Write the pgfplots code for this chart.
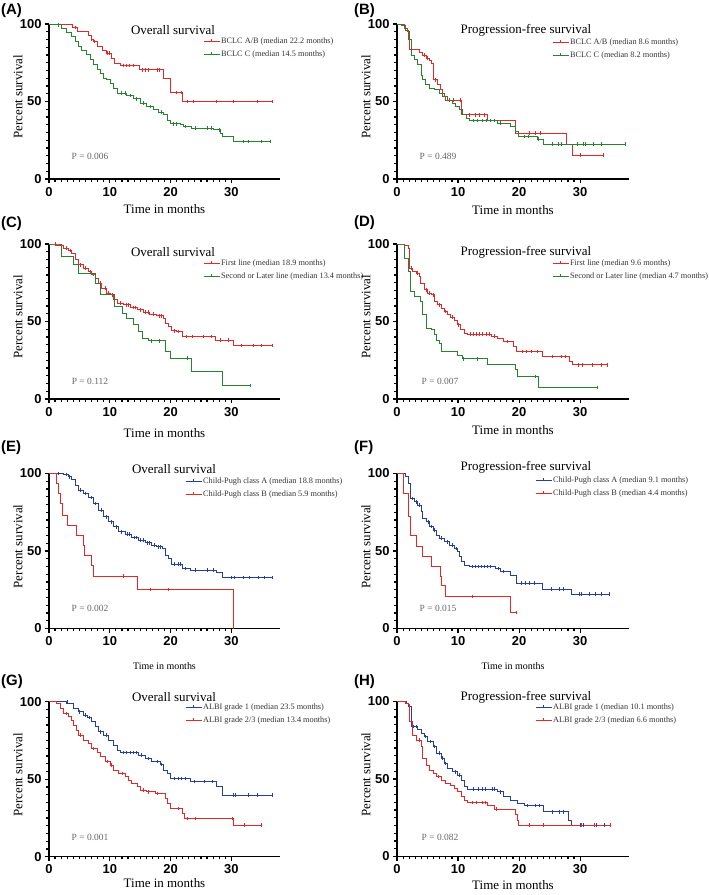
\documentclass[border=0pt]{standalone}
\usepackage{pgfplots}
\pgfplotsset{compat=1.18}
\usepackage{fontspec}
\setmainfont{Liberation Serif}
\setsansfont{Liberation Sans}
\definecolor{kmred}{RGB}{228,40,40}
\definecolor{kmgreen}{RGB}{40,130,50}
\definecolor{kmblue}{RGB}{40,60,165}
\pgfplotsset{
 kmaxis/.style={
  scale only axis, width=231bp, height=155bp,
  xmin=0, xmax=38, ymin=0, ymax=100,
  axis lines=left, axis line style={-, line width=1.4bp},
  xtick={0,10,20,30}, ytick={0,50,100},
  minor x tick num=9, minor y tick num=9,
  tick align=outside, major tick length=4bp, minor tick length=2.6bp,
  every tick/.style={black, line width=1.2bp},
  tick label style={font=\sffamily\bfseries\fontsize{13}{13}\selectfont},
  xticklabel style={yshift=-0.5bp},
  /pgf/number format/assume math mode=true,
  xlabel={Time in months}, ylabel={Percent survival},
  label style={font=\fontsize{13}{13}\selectfont},
  ylabel style={at={(axis description cs:-0.134,0.53)}, anchor=center},
  clip=false,
  anchor=south west,
  legend cell align=left,
  legend style={draw=none, fill=none, text=black!80, font=\fontsize{8.3}{8.3}\selectfont, anchor=north west, inner sep=0pt, row sep=3bp, nodes={inner sep=1bp, text height=6bp, text depth=2bp}},
  legend image code/.code={\draw[##1] (0bp,0bp) -- (16bp,0bp); \draw[##1] (8bp,0bp) -- (8bp,2.5bp); \path (0bp,-2.5bp);},
 },
 kmline/.style={const plot, line width=0.85bp, mark=none},
 kmcens/.style={only marks, mark=|, mark size=1.8bp, mark options={line width=0.7bp}, forget plot},
}
\newcommand{\ttl}[3]{\node[font=\fontsize{13}{13}\selectfont] at (#1bp,-#2bp) {#3};}
\newcommand{\pv}[3]{\node[font=\fontsize{9.5}{9.5}\selectfont, text=black!60] at (#1bp,-#2bp) {#3};}
\newcommand{\plab}[3]{\node[anchor=west, font=\sffamily\bfseries\fontsize{15}{15}\selectfont, inner sep=0pt] at (#1bp,-#2bp) {#3};}
\begin{document}
\begin{tikzpicture}
\useasboundingbox (0,0) rectangle (709bp,-895bp);
% ---------------- A ----------------
\begin{axis}[kmaxis, at={(49bp,-179bp)},
  xlabel style={at={(axis description cs:0.5,-0.194)}, anchor=center},
  legend style={at={(axis description cs:0.667,0.918)}}]
\addplot[kmline, kmred] coordinates {(0,100)(3.9,97.8)(4.7,95.3)(6.5,92.5)(6.9,90.3)(7.3,88.8)(7.9,85.6)(8.8,83.0)(9.5,81.3)(10.3,78.0)(10.7,74.8)(11.7,73.3)(14.9,70.5)(18.8,65.1)(19.9,55.8)(22.0,50.0)(36.7,50.0)};
\addlegendentry{BCLC A/B (median 22.2 months)}
\addplot[kmline, kmgreen] coordinates {(0,100)(1.3,99.5)(2.1,97.4)(2.9,94.6)(3.7,92.0)(4.3,88.8)(4.8,85.6)(5.4,83.0)(6.2,80.2)(6.8,77.4)(7.3,73.7)(7.9,70.5)(8.4,67.9)(9.0,65.0)(9.5,64.0)(10.1,61.9)(10.6,58.6)(11.2,55.4)(12.8,53.9)(13.9,51.7)(15.0,48.9)(16.1,46.8)(17.2,44.6)(18.0,43.1)(18.8,41.4)(19.4,38.1)(19.9,35.6)(21.6,34.9)(22.1,33.8)(23.5,32.8)(27.1,31.7)(28.2,29.5)(28.5,27.4)(30.4,24.1)(36.4,24.1)};
\addlegendentry{BCLC C (median 14.5 months)}
\addplot[kmcens, kmred] coordinates {(4.3,97.8)(7.0,90.3)(7.5,88.8)(9.6,81.3)(10.0,81.3)(12.2,73.3)(12.7,73.3)(13.2,73.3)(13.8,73.3)(15.3,70.5)(15.9,70.5)(16.4,70.5)(17.8,70.5)(18.2,70.5)(20.9,55.8)(21.7,55.8)(22.8,50)(23.8,50)(27.6,50)(30.3,50)(34.2,50)(36.7,50)};
\addplot[kmcens, kmgreen] coordinates {(1.5,99.5)(11.9,55.4)(12.5,55.4)(13.3,53.9)(14.4,51.7)(15.5,48.9)(16.6,46.8)(18.5,43.1)(20.5,35.6)(21.0,35.6)(22.5,33.8)(24.0,32.8)(26.0,32.8)(26.7,32.8)(28.0,31.7)(32.0,24.1)(32.8,24.1)(35.0,24.1)(36.4,24.1)};
\end{axis}
% ---------------- B ----------------
\begin{axis}[kmaxis, width=232bp, at={(397bp,-179bp)},
  xlabel style={at={(axis description cs:0.5,-0.2)}, anchor=center},
  legend style={at={(axis description cs:0.668,0.916)}}]
\addplot[kmline, kmred] coordinates {(0,100)(1.2,97)(1.7,95)(2.1,83.4)(3.7,81.7)(4.2,80.0)(4.8,78.0)(5.3,76.3)(5.7,74.8)(6.0,64.0)(6.7,60.8)(7.1,57.5)(7.5,53.2)(8.0,51.0)(10.6,41.4)(14.8,38.1)(19.4,29.5)(27.8,22.0)(28.7,15.5)(33.8,15.5)};
\addlegendentry{BCLC A/B (median 8.6 months)}
\addplot[kmline, kmgreen] coordinates {(0,100)(0.7,99)(1.3,96)(1.8,90)(2.3,80)(2.9,77)(3.4,73.7)(4.0,67)(4.2,64)(4.6,60.8)(5.3,58.6)(6.1,57.5)(6.9,55.4)(7.8,53.2)(8.3,51.0)(9.1,49.0)(9.6,46.8)(10.2,44.6)(10.7,41.4)(11.3,39.2)(11.8,37.7)(16.4,36.0)(18.6,33.8)(19.4,30.6)(19.9,27.4)(23.0,25.8)(24.0,22.6)(37.4,22.6)};
\addlegendentry{BCLC C (median 8.2 months)}
\addplot[kmcens, kmred] coordinates {(4.5,80)(5.0,78)(6.3,64)(8.6,51)(9.3,51)(10.3,51)(11.9,41.4)(12.8,41.4)(13.5,41.4)(14.3,41.4)(21.6,29.5)(22.6,29.5)(23.4,29.5)(30.0,15.5)(33.8,15.5)};
\addplot[kmcens, kmgreen] coordinates {(12.5,37.7)(13.2,37.7)(13.9,37.7)(14.6,37.7)(15.3,37.7)(16.0,37.7)(17,36)(20.8,27.4)(21.5,27.4)(23.2,25.8)(25.5,22.6)(26.5,22.6)(27,22.6)(29.5,22.6)(30.5,22.6)(30.8,22.6)(32.2,22.6)(33.5,22.6)(37.4,22.6)};
\end{axis}
% ---------------- C ----------------
\begin{axis}[kmaxis, at={(49bp,-399bp)},
  xlabel style={at={(axis description cs:0.5,-0.219)}, anchor=center},
  legend style={at={(axis description cs:0.667,0.91)}}]
\addplot[kmline, kmred] coordinates {(0,100)(0.7,100)(1.3,99.0)(2.4,97.4)(3.2,95.9)(3.7,94.2)(4.3,89.9)(4.8,86.6)(5.7,84.5)(6.5,82.3)(7.0,80.2)(7.6,77.6)(8.1,74.8)(8.7,71.6)(9.5,68.3)(10.1,67.2)(10.6,64.0)(11.2,61.9)(12.3,60.8)(13.4,59.0)(14.5,57.5)(15.5,56.0)(16.6,54.7)(17.7,53.6)(18.8,52.2)(19.1,48.9)(19.7,46.8)(20.1,44.0)(21.0,43.5)(22.0,40.3)(27.4,38.1)(30.4,34.5)(36.7,34.5)};
\addlegendentry{First line (median 18.9 months)}
\addplot[kmline, kmgreen] coordinates {(0,100)(1.0,100)(2.1,92.0)(4.1,87.0)(4.8,81.3)(7.6,74.8)(8.5,67.2)(10.7,59.7)(12.0,55.4)(12.8,52.2)(13.9,47.8)(14.7,43.5)(15.3,39.2)(16.4,37.5)(19.1,30.6)(19.9,26.3)(23.4,17.7)(28.5,8.6)(33.1,8.6)};
\addlegendentry{Second or Later line (median 13.4 months)}
\addplot[kmcens, kmred] coordinates {(1.0,100)(2.0,99)(2.8,97.4)(3.5,95.9)(5.2,86.6)(6.0,84.5)(6.8,82.3)(7.3,80.2)(8.4,74.8)(9.2,71.6)(9.8,68.3)(10.4,67.2)(11.8,61.9)(12.7,60.8)(13.0,60.8)(13.8,59)(14.2,59)(15.0,57.5)(15.9,56)(16.3,56)(17.2,54.7)(18.2,53.6)(18.5,53.6)(20.6,44)(21.3,43.5)(22.6,40.3)(23.6,40.3)(25.4,40.3)(26.7,40.3)(28.2,38.1)(29.5,38.1)(31.6,34.5)(33.6,34.5)(35.0,34.5)(36.7,34.5)};
\addplot[kmcens, kmgreen] coordinates {(16.8,37.5)(18.2,37.5)(22.7,26.3)(33.1,8.6)};
\end{axis}
% ---------------- D ----------------
\begin{axis}[kmaxis, width=232bp, at={(397bp,-399bp)},
  xlabel style={at={(axis description cs:0.5,-0.2)}, anchor=center},
  legend style={at={(axis description cs:0.668,0.91)}}]
\addplot[kmline, kmred] coordinates {(0,100)(1.0,100)(1.2,99)(1.8,97.4)(2.1,84.5)(2.6,82.3)(3.1,81.3)(3.7,79.1)(3.9,74.8)(4.5,70.5)(5.0,68.3)(5.6,67.2)(6.1,62.9)(6.6,60.8)(7.2,58.6)(7.7,56.5)(8.3,54.3)(8.8,52.8)(9.4,50.4)(9.9,47.8)(10.4,44.6)(11.0,42.5)(11.5,41.8)(15.5,40.5)(16.4,39.2)(17.5,37.1)(19.1,33.8)(19.6,30.6)(23.8,27.4)(28.3,24.1)(28.8,22.0)(34.5,22.0)};
\addlegendentry{First line (median 9.6 months)}
\addplot[kmline, kmgreen] coordinates {(0,100)(1.1,100)(1.2,90.5)(1.8,82.3)(2.2,69.4)(2.9,66.2)(3.9,62.9)(4.2,54.3)(4.8,45.7)(5.6,44.6)(6.1,41.4)(6.4,38.1)(6.9,36.0)(7.2,31.0)(9.9,28.4)(10.7,25.9)(14.8,22.0)(19.4,18.8)(19.7,14.4)(23.1,7.5)(32.8,7.5)};
\addlegendentry{Second or Later line (median 4.7 months)}
\addplot[kmcens, kmred] coordinates {(2.4,84.5)(3.3,81.3)(4.8,70.5)(5.3,68.3)(5.9,67.2)(7.0,60.8)(8.0,56.5)(9.1,52.8)(10.1,47.8)(12.0,41.8)(12.5,41.8)(13.0,41.8)(13.5,41.8)(14.0,41.8)(14.6,41.8)(15.2,41.8)(16.0,40.5)(18.0,37.1)(20.5,30.6)(21.2,30.6)(22.0,30.6)(23.0,30.6)(25.5,27.4)(27.0,27.4)(27.5,27.4)(29.7,22)(30.3,22)(32.0,22)(33.5,22)(34.5,22)};
\addplot[kmcens, kmgreen] coordinates {(10.9,25.9)(13.1,25.9)(22.7,14.4)(32.8,7.5)};
\end{axis}
% ---------------- E ----------------
\begin{axis}[kmaxis, at={(49bp,-628.5bp)},
  xlabel style={at={(axis description cs:0.5,-0.242)}, anchor=center, font=\fontsize{10}{10}\selectfont},
  legend style={at={(axis description cs:0.589,0.984)}}]
\addplot[kmline, kmblue] coordinates {(0,100)(1.0,100)(2.4,99.4)(3.2,97.8)(3.7,96.1)(4.3,92.5)(4.8,89.2)(5.7,87.1)(6.5,84.5)(7.3,80.6)(8.1,76.3)(9.0,72.0)(9.8,68.8)(10.6,65.6)(11.4,62.4)(12.5,60.9)(13.6,58.7)(14.7,57.0)(15.8,55.3)(16.9,53.8)(17.7,52.7)(18.6,51.6)(19.1,47.3)(19.7,45.2)(20.1,41.5)(22.0,38.7)(23.2,37.6)(27.6,35.9)(28.5,32.9)(36.7,32.9)};
\addlegendentry{Child-Pugh class A (median 18.8 months)}
\addplot[kmline, kmred] coordinates {(0,100)(1.0,100)(1.2,93.5)(1.5,87.1)(1.8,80.6)(2.2,73.1)(3.1,66.7)(4.5,60.2)(5.7,53.8)(5.9,47.3)(7.0,40.9)(7.3,33.8)(14.5,25.2)(30.4,0)};
\addlegendentry{Child-Pugh class B (median 5.9 months)}
\addplot[kmcens, kmblue] coordinates {(1.5,100)(2.8,99.4)(3.4,97.8)(5.2,89.2)(6.0,87.1)(6.9,84.5)(7.7,80.6)(8.6,76.3)(9.4,72)(10.2,68.8)(11.0,65.6)(11.9,62.4)(12.9,60.9)(13.2,60.9)(14.0,58.7)(14.3,58.7)(15.1,57)(15.5,57)(16.2,55.3)(16.5,55.3)(17.3,53.8)(18.0,52.7)(18.3,52.7)(20.6,41.5)(21.2,41.5)(21.6,41.5)(22.5,38.7)(24.0,37.6)(26.0,37.6)(27.0,37.6)(30.0,32.9)(30.5,32.9)(32.0,32.9)(33.0,32.9)(34.5,32.9)(35.5,32.9)(36.7,32.9)};
\addplot[kmcens, kmred] coordinates {(12.3,33.8)(16.6,25.2)(19.7,25.2)};
\end{axis}
% ---------------- F ----------------
\begin{axis}[kmaxis, width=232bp, at={(397bp,-628.5bp)},
  xlabel style={at={(axis description cs:0.5,-0.245)}, anchor=center, font=\fontsize{10}{10}\selectfont},
  legend style={at={(axis description cs:0.595,0.987)}}]
\addplot[kmline, kmblue] coordinates {(0,100)(1.0,100)(1.4,98.3)(1.8,93.6)(2.2,83.9)(2.9,81.8)(3.4,79.6)(4.0,75.3)(4.2,71.0)(4.8,68.9)(5.3,65.7)(5.9,63.5)(6.4,60.3)(6.9,58.2)(7.8,56.0)(8.6,53.9)(9.4,51.7)(9.9,49.6)(10.2,46.4)(10.5,43.1)(11.0,41.0)(11.8,39.9)(16.2,38.8)(17.0,36.7)(18.6,34.5)(19.6,29.2)(23.9,25.5)(28.6,22.3)(34.7,22.3)};
\addlegendentry{Child-Pugh class A (median 9.1 months)}
\addplot[kmline, kmred] coordinates {(0,100)(1.0,100)(1.1,87.1)(1.9,72.1)(2.2,60.3)(3.1,52.8)(4.2,46.8)(5.7,40.3)(7.1,33.5)(7.3,27.5)(8.0,20.6)(18.6,10.3)(19.6,10.3)};
\addlegendentry{Child-Pugh class B (median 4.4 months)}
\addplot[kmcens, kmblue] coordinates {(2.5,83.9)(3.1,81.8)(3.7,79.6)(5.1,68.9)(5.6,65.7)(6.1,63.5)(7.2,58.2)(8.2,56)(9.0,53.9)(9.7,51.7)(12.3,39.9)(12.8,39.9)(13.3,39.9)(13.8,39.9)(14.3,39.9)(14.8,39.9)(15.3,39.9)(16.6,38.8)(17.5,36.7)(20.3,29.2)(21.0,29.2)(21.6,29.2)(22.5,29.2)(25.3,25.5)(26.6,25.5)(27.3,25.5)(29.8,22.3)(30.2,22.3)(31.5,22.3)(32.5,22.3)(33.5,22.3)(34.7,22.3)};
\addplot[kmcens, kmred] coordinates {(12.3,20.6)(19.6,10.3)};
\end{axis}
% ---------------- G ----------------
\begin{axis}[kmaxis, at={(49bp,-856.7bp)},
  xlabel style={at={(axis description cs:0.5,-0.17)}, anchor=center},
  legend style={at={(axis description cs:0.589,0.998)}}]
\addplot[kmline, kmblue] coordinates {(0,100)(2.9,98.9)(4.0,95.7)(4.8,93.5)(5.7,91.4)(6.3,89.7)(7.0,87.1)(7.6,83.9)(8.1,80.6)(9.0,78.5)(9.8,75.3)(10.6,72.0)(11.2,68.8)(11.7,67.3)(14.7,65.6)(15.8,63.4)(16.9,61.3)(18.3,59.6)(18.8,55.9)(19.4,53.8)(19.9,50.5)(23.2,48.4)(27.5,45.2)(28.5,39.8)(36.7,39.8)};
\addlegendentry{ALBI grade 1 (median 23.5 months)}
\addplot[kmline, kmred] coordinates {(0,100)(1.0,100)(1.3,98.9)(1.8,95.7)(2.4,92.5)(3.2,90.3)(3.7,88.2)(4.0,84.9)(4.5,81.7)(4.8,78.5)(5.7,75.3)(6.5,73.1)(7.0,69.9)(7.9,67.3)(8.4,64.5)(9.2,61.3)(10.1,59.1)(10.6,55.9)(11.4,53.8)(12.5,51.6)(13.1,49.5)(13.6,47.3)(14.5,45.2)(15.0,43.0)(16.1,41.9)(17.5,40.9)(19.1,37.6)(19.5,34.4)(19.9,31.2)(22.0,28.0)(22.3,24.7)(30.4,20.4)(35.0,20.4)};
\addlegendentry{ALBI grade 2/3 (median 13.4 months)}
\addplot[kmcens, kmblue] coordinates {(3.0,100)(5.0,93.5)(6.0,91.4)(6.6,89.7)(8.5,80.6)(9.4,78.5)(12.3,67.3)(12.8,67.3)(13.3,67.3)(13.8,67.3)(14.3,67.3)(15.2,65.6)(16.3,63.4)(17.9,61.3)(18.5,59.6)(20.6,50.5)(21.3,50.5)(21.8,50.5)(22.4,50.5)(23.9,48.4)(25.6,48.4)(26.8,48.4)(30.3,39.8)(30.6,39.8)(32.8,39.8)(34.3,39.8)(36.7,39.8)};
\addplot[kmcens, kmred] coordinates {(2.8,92.5)(5.2,78.5)(7.3,69.9)(9.6,61.3)(10.3,59.1)(12.0,53.8)(15.5,43)(16.4,41.9)(17.9,40.9)(21.2,31.2)(22.8,24.7)(24.0,24.7)(30.2,24.7)(32.2,20.4)(35.0,20.4)};
\end{axis}
% ---------------- H ----------------
\begin{axis}[kmaxis, width=232bp, at={(397bp,-856.5bp)},
  xlabel style={at={(axis description cs:0.5,-0.184)}, anchor=center},
  legend style={at={(axis description cs:0.595,0.997)}}]
\addplot[kmline, kmblue] coordinates {(0,100)(1.1,100)(1.5,98.9)(1.8,96.8)(2.3,83.8)(3.4,81.7)(4.0,79.5)(4.5,77.4)(5.0,74.1)(5.9,70.9)(6.4,66.6)(7.2,63.4)(7.8,60.1)(8.3,56.9)(9.1,54.7)(9.9,52.6)(10.5,49.4)(11.0,45.0)(11.5,43.5)(16.4,41.8)(17.5,38.6)(18.6,36.4)(19.7,34.3)(20.8,32.8)(24.0,28.9)(28.1,23.5)(28.6,20.3)(34.9,20.3)};
\addlegendentry{ALBI grade 1 (median 10.1 months)}
\addplot[kmline, kmred] coordinates {(0,100)(1.0,100)(1.4,98.9)(1.8,97.8)(2.1,87.1)(2.6,78.4)(3.1,75.2)(4.0,70.9)(4.2,63.4)(4.8,59.0)(5.3,55.8)(5.9,53.7)(6.4,51.5)(7.2,49.4)(8.0,47.2)(8.8,45.7)(9.4,44.0)(9.9,41.8)(10.5,38.6)(11.0,36.4)(11.5,34.9)(14.8,33.2)(15.9,30.6)(19.4,27.2)(19.7,23.5)(19.9,20.3)(34.9,20.3)};
\addlegendentry{ALBI grade 2/3 (median 6.6 months)}
\addplot[kmcens, kmblue] coordinates {(2.7,83.8)(3.1,83.8)(4.7,77.4)(5.4,74.1)(6.1,70.9)(7.0,66.6)(7.5,63.4)(8.0,60.1)(9.5,54.7)(10.2,52.6)(12.5,43.5)(13.3,43.5)(13.9,43.5)(14.4,43.5)(15.6,43.5)(16.0,43.5)(16.9,41.8)(21.4,32.8)(22.6,32.8)(23.3,32.8)(25.4,28.9)(26.6,28.9)(27.3,28.9)(30.1,20.3)(30.5,20.3)(32.6,20.3)(34.0,20.3)};
\addplot[kmcens, kmred] coordinates {(3.6,75.2)(6.8,51.5)(12.3,34.9)(13.0,34.9)(13.9,34.9)(14.4,34.9)(16.3,30.6)(21.6,20.3)(23.9,20.3)(30.2,20.3)(32.3,20.3)(34.9,20.3)};
\end{axis}
% titles, p-values, panel labels
\ttl{173}{30}{Overall survival}
\ttl{526}{30}{Progression-free survival}
\ttl{173}{252}{Overall survival}
\ttl{526}{252}{Progression-free survival}
\ttl{174}{469}{Overall survival}
\ttl{526}{467}{Progression-free survival}
\ttl{174}{697}{Overall survival}
\ttl{526}{697}{Progression-free survival}
\pv{90}{156}{P = 0.006}
\pv{438}{156}{P = 0.489}
\pv{90}{381}{P = 0.112}
\pv{440}{381}{P = 0.007}
\pv{90}{608}{P = 0.002}
\pv{438}{608}{P = 0.015}
\pv{90}{837}{P = 0.001}
\pv{440}{837}{P = 0.082}
\plab{1}{11}{(A)}
\plab{354}{11}{(B)}
\plab{1}{224}{(C)}
\plab{354}{223}{(D)}
\plab{1}{448}{(E)}
\plab{354}{448}{(F)}
\plab{1}{682}{(G)}
\plab{354}{682}{(H)}
\end{tikzpicture}
\end{document}
